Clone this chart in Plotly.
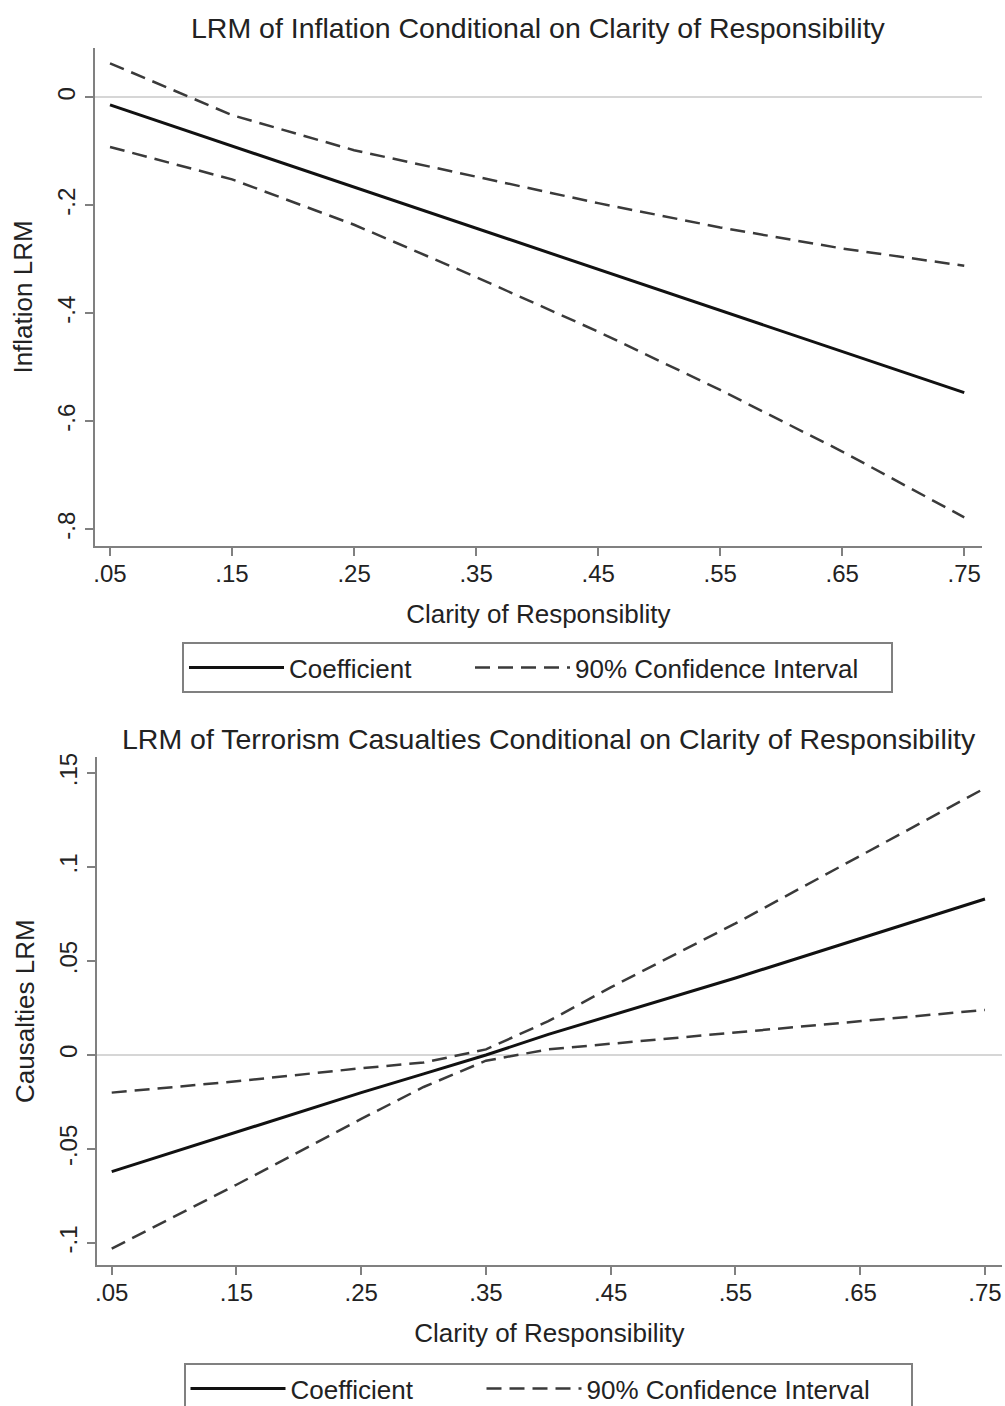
import plotly.graph_objects as go

# Window is 1005x1406. The figure is made a little taller than the window so the
# bottom legend box runs past the lower edge, as in the reference.
W, H = 1005, 1420


def fx(p):
    return p / W


def fy(p):
    return 1 - p / H


# ---------------- data ----------------
# Top panel: LRM of inflation
clarity_top = [0.05, 0.15, 0.25, 0.35, 0.45, 0.55, 0.65, 0.75]
infl_coef = [-0.014, -0.090, -0.166, -0.243, -0.319, -0.395, -0.471, -0.547]
infl_upper = [0.063, -0.033, -0.098, -0.147, -0.196, -0.241, -0.280, -0.312]
infl_lower = [-0.092, -0.152, -0.236, -0.333, -0.434, -0.542, -0.656, -0.778]

# Bottom panel: LRM of terrorism casualties
clarity_bot = [0.05, 0.15, 0.25, 0.30, 0.35, 0.40, 0.45, 0.55, 0.65, 0.75]
cas_coef = [-0.062, -0.041, -0.020, -0.010, 0.000, 0.011, 0.021, 0.041, 0.062, 0.083]
cas_upper = [-0.020, -0.014, -0.007, -0.004, 0.003, 0.018, 0.036, 0.070, 0.106, 0.142]
cas_lower = [-0.103, -0.069, -0.034, -0.017, -0.003, 0.003, 0.006, 0.012, 0.018, 0.024]

x_tickvals = [0.05, 0.15, 0.25, 0.35, 0.45, 0.55, 0.65, 0.75]
x_ticktext = [".05", ".15", ".25", ".35", ".45", ".55", ".65", ".75"]
y1_tickvals = [0, -0.2, -0.4, -0.6, -0.8]
y1_ticktext = ["0", "-.2", "-.4", "-.6", "-.8"]
y2_tickvals = [0.15, 0.1, 0.05, 0, -0.05, -0.1]
y2_ticktext = [".15", ".1", ".05", "0", "-.05", "-.1"]

title_top = "LRM of Inflation Conditional on Clarity of Responsibility"
title_bot = "LRM of Terrorism Casualties Conditional on Clarity of Responsibility"
xlabel_top = "Clarity of Responsiblity"
xlabel_bot = "Clarity of Responsibility"
ylabel_top = "Inflation LRM"
ylabel_bot = "Causalties LRM"
name_coef = "Coefficient"
name_ci = "90% Confidence Interval"

# ---------------- style ----------------
FONT = "Liberation Sans, Arial, Helvetica, sans-serif"
TXT = "#222222"
AX = "#808080"
COEF_C = "#111111"
CI_C = "#3a3a3a"
DASH = "15px,8px"
TICK_SIZE = 24
LABEL_SIZE = 26
TITLE_SIZE = 28.5
LEG_SIZE = 26

fig = go.Figure()


def add_panel(x, coef, up, lo, xa, ya, leg, w1, w2):
    fig.add_trace(go.Scatter(x=x, y=coef, mode="lines", name=name_coef,
                             line=dict(color=COEF_C, width=3),
                             xaxis=xa, yaxis=ya, legend=leg, legendwidth=w1))
    fig.add_trace(go.Scatter(x=x, y=up, mode="lines", name=name_ci,
                             line=dict(color=CI_C, width=2.5, dash=DASH),
                             xaxis=xa, yaxis=ya, legend=leg, legendwidth=w2))
    fig.add_trace(go.Scatter(x=x, y=lo, mode="lines", name=name_ci,
                             line=dict(color=CI_C, width=2.5, dash=DASH),
                             xaxis=xa, yaxis=ya, legend=leg, showlegend=False))


add_panel(clarity_top, infl_coef, infl_upper, infl_lower, "x", "y", "legend", 176, 311)
add_panel(clarity_bot, cas_coef, cas_upper, cas_lower, "x2", "y2", "legend2", 186, 319)


def xaxis(domain, rng, title, anchor):
    return dict(domain=domain, range=rng, anchor=anchor,
                showline=True, linecolor=AX, linewidth=2,
                ticks="outside", ticklen=8, tickwidth=2, tickcolor=AX,
                tickvals=x_tickvals, ticktext=x_ticktext, ticklabelstandoff=-3,
                tickfont=dict(size=TICK_SIZE, color=TXT, family=FONT),
                showgrid=False, zeroline=False,
                title=dict(text=title, font=dict(size=LABEL_SIZE, color=TXT, family=FONT), standoff=19),
                automargin=False, fixedrange=True)


def yaxis(domain, rng, tv, tt, title, anchor):
    return dict(domain=domain, range=rng, anchor=anchor,
                showline=True, linecolor=AX, linewidth=2,
                ticks="outside", ticklen=8, tickwidth=2, tickcolor=AX,
                tickvals=tv, ticktext=tt, tickangle=-90,
                tickfont=dict(size=TICK_SIZE, color=TXT, family=FONT),
                showgrid=False, zeroline=True, zerolinecolor="#d6d6d6", zerolinewidth=2,
                title=dict(text=title, font=dict(size=LABEL_SIZE, color=TXT, family=FONT), standoff=13),
                automargin=False, fixedrange=True)


def legend(xc, ytop):
    return dict(orientation="h", x=fx(xc), xanchor="center", y=fy(ytop), yanchor="top",
                bordercolor=AX, borderwidth=2, bgcolor="white",
                font=dict(size=LEG_SIZE, color=TXT, family=FONT), itemwidth=95)


fig.update_layout(
    width=W, height=H,
    margin=dict(l=0, r=0, t=0, b=0),
    paper_bgcolor="white", plot_bgcolor="white",
    font=dict(family=FONT, color=TXT),
    xaxis=xaxis([fx(95), fx(981.7)], [0.0377, 0.7643], xlabel_top, "y"),
    yaxis=yaxis([fy(546), fy(48)], [-0.831, 0.0913], y1_tickvals, y1_ticktext, ylabel_top, "x"),
    xaxis2=xaxis([fx(97), fx(1001.7)], [0.0382, 0.7634], xlabel_bot, "y2"),
    yaxis2=yaxis([fy(1265), fy(757.3)], [-0.1117, 0.1584], y2_tickvals, y2_ticktext, ylabel_bot, "x2"),
    legend=legend(537.5, 642),
    legend2=legend(548, 1363),
    annotations=[
        dict(text=title_top, x=fx(538), y=fy(28), xref="paper", yref="paper",
             xanchor="center", yanchor="middle", showarrow=False,
             font=dict(size=TITLE_SIZE, color=TXT, family=FONT)),
        dict(text=title_bot, x=fx(549), y=fy(739), xref="paper", yref="paper",
             xanchor="center", yanchor="middle", showarrow=False,
             font=dict(size=TITLE_SIZE, color=TXT, family=FONT)),
    ],
)

# Remove the browser's default 8px page margin and scrollbars so the figure
# sits at the window's top-left corner; hide the mode bar.
fig.write_html(
    "out.html",
    config={"displayModeBar": False},
    post_script="document.body.style.margin='0';"
                "document.body.style.overflow='hidden';"
                "document.documentElement.style.overflow='hidden';",
)
